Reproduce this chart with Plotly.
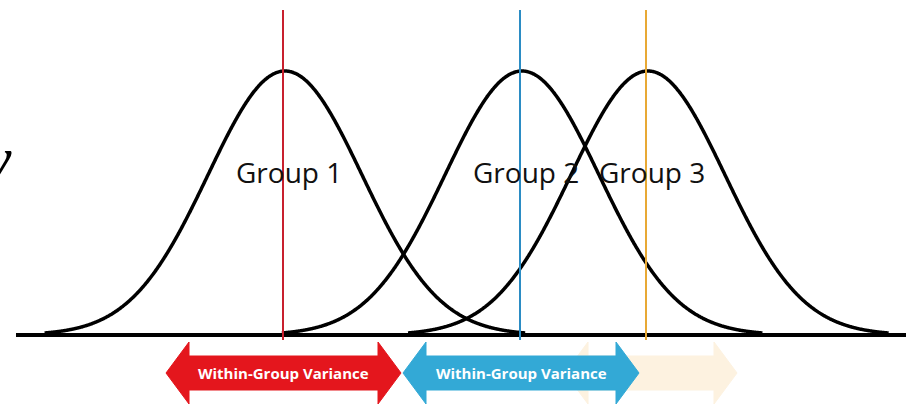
import numpy as np
import plotly.graph_objects as go

# Three groups drawn as normal curves on a shared baseline
group_names = ["Group 1", "Group 2", "Group 3"]
group_means = [285, 522, 648]
group_sds = [77, 77, 77]
group_colors = ["#c8202e", "#2b8cc4", "#e8a935"]
peak_height = 264
baseline = 73

# Variance arrows under the baseline: (start, end, label, fill, opacity)
arrow_starts = [565, 166, 403]
arrow_ends = [737, 401, 639]
arrow_labels = ["", "Within-Group Variance", "Within-Group Variance"]
arrow_fills = ["#f6c16a", "#e4161d", "#33a9d6"]
arrow_opacity = [0.2, 1.0, 1.0]


def arrow_path(x0, x1, yc, body=17, head=31, head_len=23):
    """Double-headed arrow outline as an SVG path in data units."""
    pts = [
        (x0, yc),
        (x0 + head_len, yc + head),
        (x0 + head_len, yc + body),
        (x1 - head_len, yc + body),
        (x1 - head_len, yc + head),
        (x1, yc),
        (x1 - head_len, yc - head),
        (x1 - head_len, yc - body),
        (x0 + head_len, yc - body),
        (x0 + head_len, yc - head),
    ]
    return "M " + " L ".join(f"{x},{y}" for x, y in pts) + " Z"


fig = go.Figure()

# Bell curves
x = np.linspace(0, 906, 1200)
for name, mu, sd in zip(group_names, group_means, group_sds):
    y = baseline + peak_height * np.exp(-0.5 * ((x - mu) / sd) ** 2)
    keep = y > baseline + 2
    fig.add_trace(go.Scatter(
        x=x[keep], y=y[keep], mode="lines", name=name,
        line=dict(color="black", width=3.5, shape="spline"),
        showlegend=False, hoverinfo="skip"
    ))

# Baseline
fig.add_shape(type="line", x0=16, x1=906, y0=baseline, y1=baseline,
              line=dict(color="black", width=4))

# Mean lines
for mu, col in zip(group_means, group_colors):
    fig.add_shape(type="line", x0=mu - 2, x1=mu - 2, y0=68, y1=398,
                  line=dict(color=col, width=2))

# Group labels
for name, mu in zip(group_names, group_means):
    fig.add_annotation(x=mu + 4, y=236, text=name, showarrow=False,
                       font=dict(family="Open Sans", size=28, color="#111111"))

# Arrows with labels
for x0, x1, label, fill, op in zip(arrow_starts, arrow_ends, arrow_labels, arrow_fills, arrow_opacity):
    fig.add_shape(type="path", path=arrow_path(x0, x1, 35), fillcolor=fill,
                  opacity=op, line=dict(color=fill, width=1), layer="above")
    if label:
        fig.add_annotation(x=(x0 + x1) / 2, y=35, text=f"<b>{label}</b>", showarrow=False,
                           font=dict(family="Open Sans", size=15, color="white"))

# Cut-off italic glyph at the left edge
fig.add_annotation(x=14, y=250, text="<i>y</i>", showarrow=False, xanchor="right",
                   font=dict(family="Liberation Serif", size=62, color="black"))

fig.update_layout(
    width=906,
    height=408,
    margin=dict(l=0, r=0, t=0, b=0),
    paper_bgcolor="white",
    plot_bgcolor="white",
    xaxis=dict(range=[0, 906], visible=False, fixedrange=True),
    yaxis=dict(range=[0, 408], visible=False, fixedrange=True),
    showlegend=False
)

# drop the page's default body margin so the figure sits at the window corner
fig.write_html("out.html", config={"displayModeBar": False},
               post_script="document.body.style.margin='0';")
